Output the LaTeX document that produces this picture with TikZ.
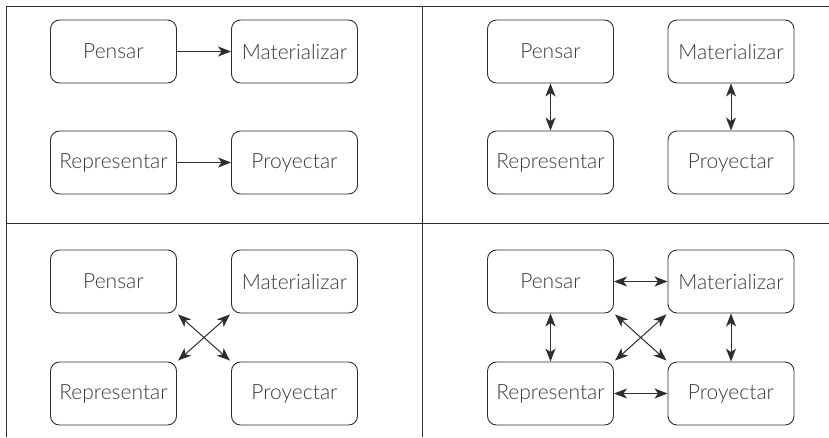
\documentclass[tikz,border=0pt]{standalone}
\usepackage{fontspec}
\setmainfont{Lato}[UprightFont=* Light]
\usetikzlibrary{arrows.meta}
\definecolor{ink}{HTML}{2E2E2E}
\definecolor{txt}{HTML}{3A3A3A}
\begin{document}
\begin{tikzpicture}[x=1pt,y=-1pt,
  box/.style={draw=ink, line width=0.9pt, rounded corners=9pt, minimum width=126pt, minimum height=63pt, inner sep=0pt, font=\fontsize{21}{25}\selectfont, text=txt},
  tip/.tip={Stealth[length=13pt,width=10pt,inset=3.5pt]},
  conn/.style={line width=1pt, draw=ink, -tip},
  biconn/.style={line width=1pt, draw=ink, tip-tip},
  frame/.style={line width=1pt, draw=ink}]
\useasboundingbox (0,0) rectangle (829,437);
% frame
\coordinate (tl) at (6,6);
\coordinate (tr) at (829,6);
\coordinate (bl) at (6,437);
\coordinate (ml) at (6,223);
\coordinate (mr) at (829,223);
\coordinate (vt) at (422,6);
\coordinate (vb) at (422,437);
\draw[frame] (bl) -- (tl) -- (tr);
\draw[frame] (ml) -- (mr);
\draw[frame] (vt) -- (vb);
% panel 1
\node[box] (p1) at (113.5,51.5) {Pensar};
\node[box] (m1) at (294.5,51.5) {Materializar};
\node[box] (r1) at (113.5,162.5) {Representar};
\node[box] (y1) at (294.5,162.5) {Proyectar};
\draw[conn] (p1) -- (m1);
\draw[conn] (r1) -- (y1);
% panel 2
\node[box] (p2) at (550.5,51.5) {Pensar};
\node[box] (m2) at (731,51.5) {Materializar};
\node[box] (r2) at (550.5,162.5) {Representar};
\node[box] (y2) at (731,162.5) {Proyectar};
\draw[biconn] (p2) -- (r2);
\draw[biconn] (m2) -- (y2);
% panel 3
\node[box] (p3) at (113.5,281.5) {Pensar};
\node[box] (m3) at (294.5,281.5) {Materializar};
\node[box] (r3) at (113.5,393.5) {Representar};
\node[box] (y3) at (294.5,393.5) {Proyectar};
\draw[biconn, shorten <=1.5pt, shorten >=1.5pt] (p3.south east) -- (y3.north west);
\draw[biconn, shorten <=1.5pt, shorten >=1.5pt] (m3.south west) -- (r3.north east);
% panel 4
\node[box] (p4) at (550.5,281.5) {Pensar};
\node[box] (m4) at (731,281.5) {Materializar};
\node[box] (r4) at (550.5,393.5) {Representar};
\node[box] (y4) at (731,393.5) {Proyectar};
\draw[biconn] (p4) -- (m4);
\draw[biconn] (r4) -- (y4);
\draw[biconn] (p4) -- (r4);
\draw[biconn] (m4) -- (y4);
\draw[biconn, shorten <=1.5pt, shorten >=1.5pt] (p4.south east) -- (y4.north west);
\draw[biconn, shorten <=1.5pt, shorten >=1.5pt] (m4.south west) -- (r4.north east);
\end{tikzpicture}
\end{document}
